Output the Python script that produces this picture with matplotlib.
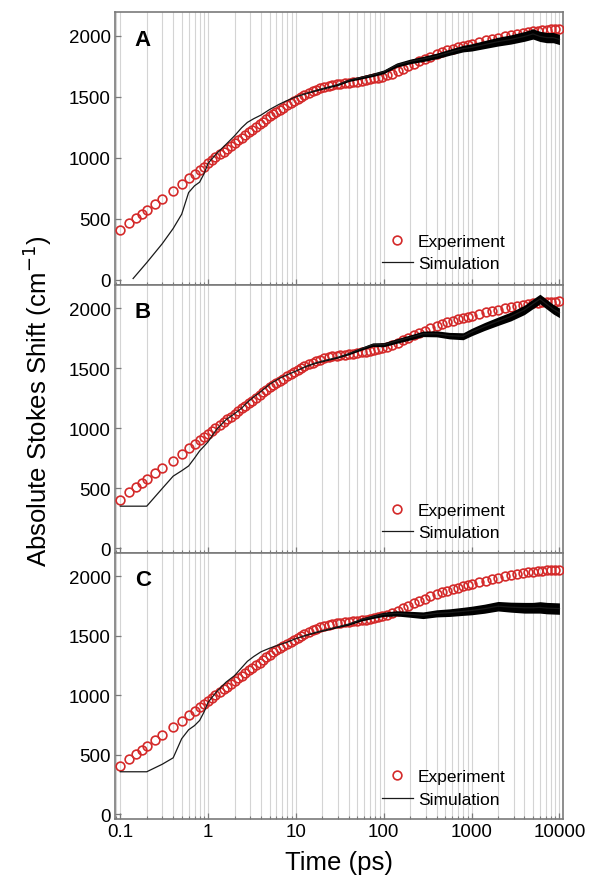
import numpy as np
import matplotlib
matplotlib.use("Agg")
import matplotlib.pyplot as plt
from matplotlib.ticker import LogLocator, FixedLocator, FixedFormatter, NullFormatter

plt.rcParams['font.family'] = ['Liberation Sans', 'DejaVu Sans']

# Measured solvation response (same data in every panel)
exp_time = [0.1, 0.125, 0.15, 0.175, 0.2, 0.25, 0.3, 0.4, 0.5, 0.6, 0.7, 0.8, 0.9, 1.0,
            1.1, 1.2, 1.35, 1.5, 1.65, 1.8, 2.0, 2.2, 2.4, 2.65, 2.9, 3.2, 3.5, 3.85, 4.2,
            4.6, 5.0, 5.5, 6.0, 6.6, 7.2, 8.0, 8.8, 9.6,
            10.5, 11.5, 12.5, 14, 15.5, 17, 19, 21, 23.5, 26, 29, 32, 36, 40, 45, 50, 56,
            63, 70, 78, 87, 96,
            110, 125, 145, 165, 190, 220, 255, 295, 340, 400, 460, 530, 610, 700, 800, 900,
            1000, 1200, 1450, 1700, 2000, 2400, 2800, 3300, 3800, 4400, 5000, 5700, 6400,
            7200, 8000, 9000, 10000]
exp_shift = [405, 465, 510, 543, 573, 625, 666, 730, 785, 832, 868, 900, 928, 955,
             980, 1003, 1028, 1050, 1072, 1095, 1120, 1143, 1165, 1188, 1208, 1230, 1252,
             1275, 1297, 1318, 1340, 1360, 1378, 1395, 1412, 1432, 1450, 1466,
             1485, 1500, 1514, 1530, 1545, 1557, 1570, 1580, 1590, 1597, 1603, 1608, 1612,
             1616, 1620, 1624, 1630, 1636, 1642, 1650, 1658, 1665,
             1675, 1690, 1710, 1730, 1752, 1772, 1792, 1812, 1830, 1850, 1866, 1880, 1893,
             1905, 1916, 1926,
             1936, 1950, 1963, 1974, 1986, 1998, 2008, 2017, 2025, 2032, 2038, 2043, 2047,
             2050, 2052, 2054, 2055]

# Simulated response for the three models, with the spread of the trajectory noise
sim_time = [0.1, 0.14, 0.2, 0.3, 0.4, 0.5, 0.6, 0.7, 0.8, 0.9, 1.0, 1.25, 1.6, 2.0, 2.4,
            2.8, 3.3, 4, 5, 6.5, 8, 10, 13, 17, 22, 30, 40, 55, 75, 100, 140, 200, 280,
            400, 560, 800, 1000, 1400, 2000, 2800, 4000, 5000, 6000, 7200, 8500, 10000]
sim_a = [np.nan, 10, 140, 295, 420, 537, 715, 770, 800, 870, 955, 1035, 1110, 1180, 1245,
         1290, 1320, 1350, 1395, 1440, 1470, 1500, 1528, 1553, 1575, 1600, 1635, 1658,
         1680, 1705, 1760, 1790, 1810, 1835, 1865, 1895, 1905, 1928, 1952, 1970, 1995,
         2015, 1995, 1985, 1985, 1970]
sim_b = [350, 350, 350, 497, 600, 645, 685, 750, 810, 850, 887, 990, 1070, 1120, 1165,
         1215, 1260, 1305, 1365, 1415, 1445, 1475, 1515, 1545, 1566, 1590, 1620, 1660,
         1695, 1695, 1725, 1755, 1785, 1785, 1770, 1765, 1800, 1846, 1890, 1930, 1985,
         2035, 2075, 2030, 1990, 1960]
sim_c = [357, 357, 357, 420, 474, 635, 710, 745, 788, 860, 941, 1030, 1110, 1165, 1230,
         1285, 1325, 1365, 1395, 1425, 1447, 1476, 1505, 1530, 1550, 1575, 1598, 1635,
         1660, 1680, 1688, 1680, 1672, 1688, 1694, 1705, 1712, 1727, 1748, 1740, 1735,
         1735, 1738, 1732, 1730, 1728]
noise_a = [0, 0, 0, 0, 0, 0, 0, 0, 0, 0, 0, 0, 0, 0, 0, 0, 0, 0, 0, 0, 0, 0, 3, 5, 6, 8,
           10, 12, 14, 15, 17, 19, 21, 23, 25, 27, 30, 33, 36, 38, 40, 42, 42, 42, 42, 42]
noise_b = [0, 0, 0, 0, 0, 0, 0, 0, 0, 0, 0, 0, 0, 0, 0, 0, 0, 0, 0, 0, 0, 0, 3, 4, 5, 6,
           9, 12, 15, 17, 19, 21, 23, 25, 27, 29, 31, 33, 35, 37, 39, 40, 40, 40, 40, 40]
noise_c = [0, 0, 0, 0, 0, 0, 0, 0, 0, 0, 0, 0, 0, 0, 0, 0, 0, 0, 0, 0, 0, 0, 3, 4, 5, 6,
           9, 12, 15, 18, 22, 25, 28, 30, 32, 34, 36, 38, 40, 42, 45, 45, 48, 48, 48, 48]

panel_labels = ["A", "B", "C"]
x_ticks = [0.1, 1, 10, 100, 1000, 10000]
x_tick_labels = ["0.1", "1", "10", "100", "1000", "10000"]
y_ticks = [0, 500, 1000, 1500, 2000]

fig = plt.figure(figsize=(5.89, 8.79), dpi=100)
gs = fig.add_gridspec(3, 1, left=0.1952, right=0.956, top=0.9852, bottom=0.0671,
                      hspace=0, height_ratios=[272.6, 268.4, 266])

frame_color = "#7a7a7a"
red = "#d42a2a"

for i, (sim, noise, label) in enumerate(zip([sim_a, sim_b, sim_c],
                                            [noise_a, noise_b, noise_c], panel_labels)):
    ax = fig.add_subplot(gs[i])
    ax.set_xscale("log")
    ax.set_xlim(0.087, 11000)
    ax.set_ylim(-40, 2195)

    sim = np.asarray(sim, dtype=float)
    noise = np.asarray(noise, dtype=float)

    ax.plot(exp_time, exp_shift, linestyle="none", marker="o", markersize=6.3,
            markerfacecolor="none", markeredgecolor=red, markeredgewidth=1.2,
            label="Experiment", zorder=3)
    ax.fill_between(sim_time, sim - noise, sim + noise, color="black", linewidth=0,
                    zorder=4)
    ax.plot(sim_time, sim, color="#1a1a1a", linewidth=0.9, label="Simulation", zorder=4)

    # vertical guide lines at every decade and sub-decade tick
    ax.xaxis.set_major_locator(FixedLocator(x_ticks))
    ax.xaxis.set_minor_locator(LogLocator(base=10, subs=np.arange(2, 10), numticks=20))
    ax.xaxis.set_minor_formatter(NullFormatter())
    ax.grid(True, which="both", axis="x", color="#d4d4d4", linewidth=0.8, zorder=0)
    ax.set_axisbelow(True)

    ax.yaxis.set_major_locator(FixedLocator(y_ticks))
    ax.tick_params(axis="both", which="major", direction="in", length=4.5, width=0.9,
                   color=frame_color, labelsize=13.5, pad=3)
    ax.tick_params(axis="x", which="minor", direction="in", length=2.5, width=0.8,
                   color=frame_color)
    if i < 2:
        ax.tick_params(axis="x", which="both", labelbottom=False)
    else:
        ax.xaxis.set_major_formatter(FixedFormatter(x_tick_labels))
        ax.set_xlabel("Time (ps)", fontsize=18.5, labelpad=7)

    for sp in ax.spines.values():
        sp.set_color(frame_color)
        sp.set_linewidth(1.2)

    ax.text(0.0625, 0.90, label, transform=ax.transAxes, ha="center", va="center",
            fontsize=16, fontweight="bold")

    ax.legend(loc="upper left", bbox_to_anchor=(0.595, 0.187), frameon=False,
              fontsize=12.5, handlelength=1.8, handletextpad=0.3, labelspacing=0.42,
              borderpad=0, borderaxespad=0)

fig.text(0.064, 0.544, "Absolute Stokes Shift (cm$^{-1}$)", rotation=90,
         ha="center", va="center", fontsize=18.5)

fig.savefig("out.png", dpi=100)
